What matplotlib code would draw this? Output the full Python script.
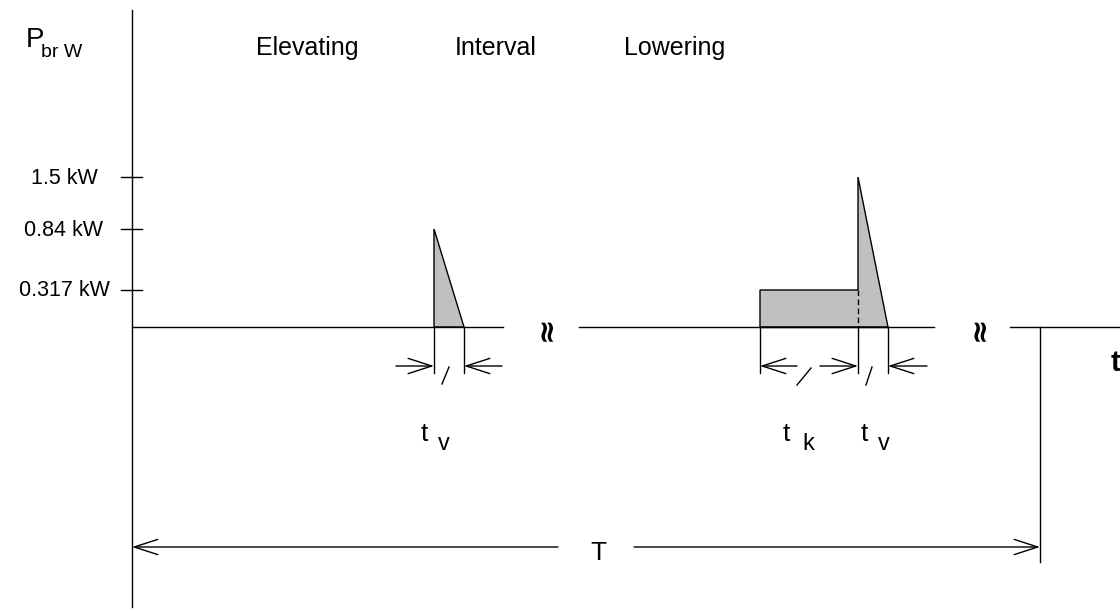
import numpy as np
import matplotlib
matplotlib.use("Agg")
import matplotlib.pyplot as plt

# ---- data ----
tick_levels_kw = [1.5, 0.84, 0.317]
tick_labels = ["1.5 kW", "0.84 kW", "0.317 kW"]
phase_labels = ["Elevating", "Interval", "Lowering"]
lift_brake_peak_kw = 0.84
lower_hold_kw = 0.317
lower_brake_peak_kw = 1.5

# ---- schematic scales (layout) ----
level_kw_ref = [0.0, 0.317, 0.84, 1.5]
level_y_ref = [327, 290, 229, 177]


def yk(kw):
    return np.interp(kw, level_kw_ref, level_y_ref)


x0 = 132
lift_s, lift_e = 434, 464
hold_s, brake_s, brake_e = 760, 858, 888
T_end = 1040
y0 = float(yk(0.0))

plt.rcParams['font.family'] = ['Liberation Sans', 'DejaVu Sans']
fig = plt.figure(figsize=(11.2, 6.12), dpi=100)
ax = fig.add_axes([0, 0, 1, 1])
ax.set_xlim(0, 1120)
ax.set_ylim(612, 0)
ax.axis('off')

lw = 1.0
k = 'black'
gray = '#c0c0c0'

# axes
ax.plot([x0, x0], [10, 607], color=k, lw=lw)
for seg in [(x0, 503), (579, 934), (1010, 1120)]:
    ax.plot(seg, [y0, y0], color=k, lw=lw)
for xb in [547, 980]:
    ax.text(xb, y0 + 1, "≈", rotation=90, ha='center', va='center',
            fontsize=22, fontweight='bold', family='DejaVu Sans')

# y ticks
for lv, lab in zip(tick_levels_kw, tick_labels):
    yy = float(yk(lv))
    ax.plot([121, 142], [yy, yy], color=k, lw=lw)
    ax.text(64, yy + 1, lab, ha='center', va='center', fontsize=15.5)

# axis title
ax.text(26, 47, "P", ha='left', va='baseline', fontsize=20)
ax.text(41, 57, "br W", ha='left', va='baseline', fontsize=14)

# phase labels
for lab, xc in zip(phase_labels, [307, 496, 675]):
    ax.text(xc, 48, lab, ha='center', va='center', fontsize=18)

# shapes
ax.fill([lift_s, lift_s, lift_e], [y0, yk(lift_brake_peak_kw), y0],
        facecolor=gray, edgecolor=k, lw=lw)
ax.fill([hold_s, hold_s, brake_s, brake_s, brake_e],
        [y0, yk(lower_hold_kw), yk(lower_hold_kw), yk(lower_brake_peak_kw), y0],
        facecolor=gray, edgecolor=k, lw=lw)
ax.plot([hold_s, brake_e], [y0, y0], color=k, lw=lw)
ax.plot([brake_s, brake_s], [yk(lower_hold_kw), y0], color=k, lw=lw,
        linestyle=(0, (4, 2.5)))

# extension lines
for xe in [lift_s, lift_e, hold_s, brake_s, brake_e]:
    ax.plot([xe, xe], [y0, 373], color=k, lw=lw)
ax.plot([T_end, T_end], [y0, 562], color=k, lw=lw)

ap = dict(arrowstyle='->,head_length=17,head_width=5.5', color=k, lw=lw,
          mutation_scale=1, shrinkA=0, shrinkB=0)
ya = 366


def arr(xs, xe, y):
    ax.annotate('', xy=(xe, y), xytext=(xs, y), arrowprops=ap)


arr(396, lift_s, ya)
arr(502, lift_e, ya)
arr(797, hold_s, ya)
arr(820, brake_s, ya)
arr(927, brake_e, ya)
arr(558, x0, 547)
arr(634, T_end, 547)

# slashes
for (xa, ya1, xb, yb) in [(442, 384, 449, 367), (797, 385, 811, 368),
                          (866, 385, 872, 367)]:
    ax.plot([xa, xb], [ya1, yb], color=k, lw=lw)

# dimension labels
def sub_label(x, y, main, sub, dx):
    ax.text(x, y, main, ha='left', va='baseline', fontsize=19)
    ax.text(x + dx, y + 9, sub, ha='left', va='baseline', fontsize=17)


sub_label(421, 441, "t", "v", 17)
sub_label(783, 441, "t", "k", 19)
sub_label(861, 441, "t", "v", 17)

ax.text(598, 553, "T", ha='center', va='center', fontsize=19)
ax.text(1111, 371, "t", ha='left', va='baseline', fontsize=21, fontweight='bold')

fig.savefig("out.png", dpi=100)
